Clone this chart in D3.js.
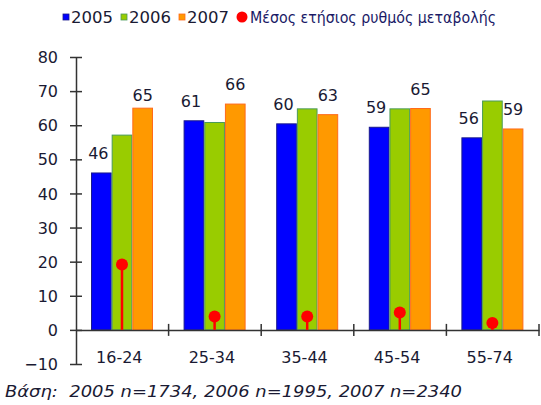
<!DOCTYPE html>
<html lang="el">
<head>
<meta charset="UTF-8">
<title>Ρυθμός μεταβολής ανά ηλικία</title>
<script src="https://cdn.jsdelivr.net/npm/d3@7"></script>
<style>
  body { margin: 0; background: #fff; }
  text { font-family: "DejaVu Sans", Verdana, sans-serif; fill: #1a1a33; }
</style>
</head>
<body>
<svg id="chart" width="541" height="405"></svg>
<script>
// data
const ageGroups = ['16-24', '25-34', '35-44', '45-54', '55-74'];
const years = ['2005', '2006', '2007'];
const values2005 = [46, 61.3, 60.4, 59.4, 56.3];
const values2006 = [57.1, 60.8, 64.8, 64.8, 67.1];
const values2007 = [65, 66.2, 63.1, 64.9, 58.9];
const avgChange = [19.2, 3.9, 3.9, 5.1, 2.0];
const yTicks = [-10, 0, 10, 20, 30, 40, 50, 60, 70, 80];
const labelled = {'2005': true, '2006': false, '2007': true};
const legendName = 'Μέσος ετήσιος ρυθμός μεταβολής';
const footnote = 'Βάση:  2005 n=1734, 2006 n=1995, 2007 n=2340';

const fills = {'2005': '#0000ff', '2006': '#99cc00', '2007': '#ff9900'};
const strokes = {'2005': '#1a1a8c', '2006': '#4a9a5a', '2007': '#ff6a1a'};
const seriesValues = {'2005': values2005, '2006': values2006, '2007': values2007};

let svg = d3.select('svg#chart');

let x = d3.scaleBand().domain(ageGroups).range([76, 539]);
let xInner = d3.scaleBand().domain(years).range([15, 77]);
let y = d3.scaleLinear().domain([-10, 80]).range([364, 57]);

let rows = ageGroups.map(function(g, i) {
    return {group: g, idx: i, bars: years.map(function(yr) {
        return {year: yr, value: seriesValues[yr][i], first: i === 0};
    })};
});

// bars
let groups = svg.append('g').selectAll('g')
    .data(rows)
    .enter()
    .append('g')
    .attr('transform', function(d) { return 'translate(' + x(d.group) + ',0)'; });

groups.selectAll('rect')
    .data(function(d) { return d.bars; })
    .enter()
    .append('rect')
    .attr('x', function(d) { return xInner(d.year) + 0.5; })
    .attr('width', xInner.bandwidth() - 1)
    .attr('y', function(d) { return y(d.value); })
    .attr('height', function(d) { return y(0) - y(d.value); })
    .attr('fill', function(d) { return fills[d.year]; })
    .attr('stroke', function(d) { return strokes[d.year]; })
    .attr('stroke-width', 1);

// value labels
groups.selectAll('text.val')
    .data(function(d) { return d.bars.filter(function(b) { return labelled[b.year]; }); })
    .enter()
    .append('text')
    .attr('class', 'val')
    .attr('x', function(d) { return xInner(d.year) + xInner.bandwidth() / 2 + (d.year === '2005' ? -3 : 0); })
    .attr('y', function(d) { return y(d.value) - (d.first && d.year === '2007' ? 7 : 14); })
    .attr('text-anchor', 'middle')
    .style('font-size', '16px')
    .text(function(d) { return Math.round(d.value); });

// y axis
let yAxis = d3.axisLeft(y).tickValues(yTicks).tickSizeInner(6).tickSizeOuter(0).tickPadding(12);
let gy = svg.append('g').attr('transform', 'translate(76,0)').call(yAxis);
gy.select('.domain').attr('stroke', '#333').attr('stroke-width', 1.5);
gy.selectAll('.tick line').attr('stroke', '#333').attr('stroke-width', 1.5).attr('x2', 6).attr('x1', -6);
gy.selectAll('.tick text').style('font-size', '16px').attr('fill', '#1a1a33').attr('x', -18).attr('dy', '0.35em');

// x axis at zero
let xAxis = d3.axisBottom(x).tickSize(0).tickPadding(22);
let gx = svg.append('g').attr('transform', 'translate(0,' + y(0) + ')').call(xAxis);
gx.select('.domain').attr('stroke', '#333').attr('stroke-width', 1.5);
gx.selectAll('.tick text').style('font-size', '16px').attr('fill', '#1a1a33').attr('dx', '-3');
gx.selectAll('line.sep')
    .data(ageGroups)
    .enter()
    .append('line')
    .attr('class', 'sep')
    .attr('x1', function(d) { return x(d) + x.bandwidth(); })
    .attr('x2', function(d) { return x(d) + x.bandwidth(); })
    .attr('y1', -6)
    .attr('y2', 6)
    .attr('stroke', '#333')
    .attr('stroke-width', 1.5);

// average change lollipops on the 2006 bar
let lolli = svg.append('g').selectAll('g')
    .data(avgChange)
    .enter()
    .append('g')
    .attr('transform', function(d, i) {
        return 'translate(' + (x(ageGroups[i]) + xInner('2006') + xInner.bandwidth() / 2) + ',0)';
    });
lolli.append('line')
    .attr('y1', y(0))
    .attr('y2', function(d) { return y(d); })
    .attr('stroke', '#ff0000')
    .attr('stroke-width', 2.5);
lolli.append('circle')
    .attr('cy', function(d) { return y(d); })
    .attr('r', 6)
    .attr('fill', '#ff0000');

// legend
let legend = svg.append('g').attr('transform', 'translate(63,17)');
let lx = 0;
years.forEach(function(yr) {
    legend.append('rect').attr('x', lx).attr('y', -3).attr('width', 6).attr('height', 6)
        .attr('fill', fills[yr]).attr('stroke', strokes[yr]).attr('stroke-width', 0.8);
    legend.append('text').attr('x', lx + 8).attr('y', 0).attr('dy', '0.35em')
        .style('font-size', '16px').attr('textLength', 42).attr('lengthAdjust', 'spacingAndGlyphs')
        .text(yr);
    lx += 58;
});
legend.append('circle').attr('cx', lx + 5).attr('cy', 0).attr('r', 5.5).attr('fill', '#ff0000');
legend.append('text').attr('x', lx + 13).attr('y', 0).attr('dy', '0.35em')
    .style('font-size', '16px').attr('textLength', 246).attr('lengthAdjust', 'spacingAndGlyphs')
    .style('fill', '#1a1a66').text(legendName);

// footnote
svg.append('text')
    .attr('x', 5)
    .attr('y', 397)
    .style('font-size', '16px')
    .style('font-style', 'italic')
    .style('white-space', 'pre')
    .attr('textLength', 457)
    .attr('lengthAdjust', 'spacingAndGlyphs')
    .text(footnote);
</script>
</body>
</html>
